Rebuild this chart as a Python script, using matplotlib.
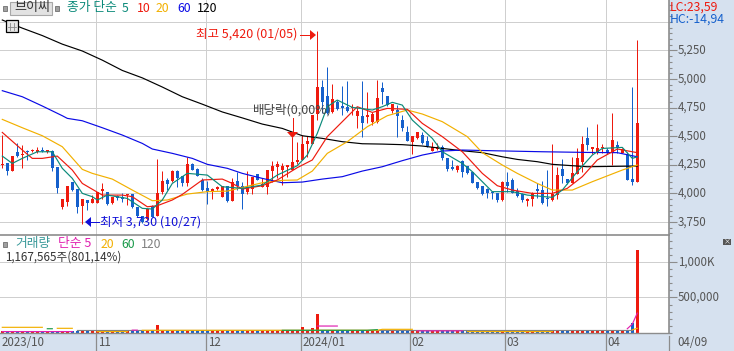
import matplotlib
matplotlib.use('Agg')
import matplotlib.pyplot as plt
from matplotlib.patches import Rectangle, Polygon
from matplotlib.ticker import MultipleLocator
from matplotlib.transforms import ScaledTranslation

plt.rcParams['font.family'] = ['Noto Sans CJK KR', 'DejaVu Sans']

nan = float('nan')

# daily candles, Oct 2023 - Apr 2024
opens = [4248,4262,4195,4365,4335,4373,4370,4358,4375,4365,4373,4230,3878,3925,4100,4038,3888,3942,3918,3920,
         4022,4008,3912,3980,3965,3982,3994,3883,3802,3773,3892,3802,4009,4117,4108,4198,4152,4087,4257,4213,
         4117,4044,4023,4041,3971,4064,3936,4108,4064,4015,4038,4169,4058,4058,4195,4233,4204,4233,4204,4277,
         4292,4428,4431,4694,4927,4851,4708,4799,4755,4752,4743,4676,4679,4670,4624,4624,4921,4851,4720,4729,
         4641,4539,4452,4481,4510,4461,4373,4385,4408,4312,4233,4204,4283,4239,4190,4099,4064,4035,4009,4006,
         3942,4096,4117,4023,3994,3936,3948,4038,4029,3962,3942,3985,4216,4122,4093,4169,4274,4487,4385,4364,
         4393,4379,4356,4423,4350,4344,4122,4102]
highs = [4510,4268,4330,4437,4420,4380,4388,4408,4408,4378,4378,4230,3955,4065,4102,4038,3955,3942,3985,4008,
         4093,4008,3970,3990,4000,3991,3994,3883,3805,3869,3898,4297,4195,4137,4204,4204,4152,4315,4262,4219,
         4131,4108,4044,4061,4064,4064,4137,4189,4102,4198,4146,4169,4137,4204,4283,4283,4262,4248,4496,4446,
         4510,4501,4685,5420,4991,5102,4953,4816,4939,4985,4781,4758,4982,4883,4714,4991,4971,4851,4781,4772,
         4685,4589,4501,4539,4539,4501,4452,4443,4423,4312,4292,4248,4292,4239,4190,4099,4064,4044,4009,4006,
         4105,4189,4137,4044,4000,3956,4015,4093,4105,4204,4431,4233,4300,4122,4321,4399,4501,4583,4408,4606,
         4428,4393,4700,4458,4399,4364,4933,5341]
lows = [4220,4160,4195,4320,4225,4290,4358,4355,4365,4355,4198,4005,3863,3890,4022,3825,3730,3855,3912,3912,
        3955,3898,3907,3942,3927,3898,3869,3796,3745,3767,3790,3802,3994,4029,4102,4058,4067,4064,4204,4155,
        4023,3907,3950,4029,3971,3927,3936,4029,3863,3994,3994,4117,4052,3994,4102,4131,4073,4140,4204,4257,
        4292,4320,4431,4641,4700,4694,4700,4729,4685,4714,4685,4568,4496,4618,4598,4618,4781,4764,4700,4496,
        4548,4458,4344,4472,4431,4408,4370,4379,4292,4198,4204,4190,4146,4169,4087,4035,3985,3962,3950,3927,
        3936,4015,4000,3965,3927,3892,3892,3956,3904,3892,3936,3950,4087,4082,4087,4169,4190,4379,4344,4344,
        4350,4344,4248,4356,4350,4117,4073,4102]
closes = [4255,4198,4330,4326,4345,4362,4378,4378,4370,4373,4225,4045,3955,4065,4030,3883,3948,3918,3950,4008,
          4035,3907,3965,3956,3948,3991,3878,3802,3752,3860,3796,4000,4108,4082,4198,4131,4093,4257,4204,4155,
          4029,4015,4035,4050,4064,3933,4096,4064,3991,4052,4146,4117,4079,4204,4239,4259,4239,4242,4271,4289,
          4431,4458,4685,4927,4796,4700,4822,4738,4749,4720,4752,4720,4612,4688,4694,4834,4886,4770,4781,4676,
          4568,4461,4501,4539,4437,4414,4402,4402,4312,4210,4213,4242,4190,4175,4093,4044,3991,4000,4000,3942,
          4099,4064,4006,3977,3942,3950,4000,4023,3918,3948,3991,4160,4152,4087,4181,4312,4431,4423,4402,4396,
          4408,4364,4466,4399,4388,4117,4099,4612]

# price averages, read at their bends (session index, price)
ma5_x = [0,2,4,7,10,12,14,16,18,19,21,25,28,30,32,34,37,41,44,48,52,55,59,61,63,65,67,70,74,76,78,80,82,86,88,92,94,98,102,105,110,112,115,118,120,124,126,127]
ma5_y = [4326,4262,4306,4364,4364,4219,4131,4000,3971,3942,3985,3956,3869,3863,3942,4087,4175,4160,4058,4044,4073,4160,4242,4335,4525,4758,4816,4752,4729,4758,4796,4772,4641,4481,4364,4262,4190,4015,4015,3985,3965,4029,4190,4335,4393,4402,4306,4320]
ma10_x = [0,4,6,8,11,14,16,20,24,26,29,31,34,36,40,44,46,48,52,55,59,62,65,68,71,74,77,81,84,88,92,96,99,102,106,110,113,116,119,123,127]
ma10_y = [4533,4379,4306,4306,4326,4204,4087,3985,3985,3971,3883,3892,3942,3991,4117,4125,4087,4038,4067,4117,4225,4292,4496,4627,4758,4708,4743,4735,4612,4496,4364,4175,4067,4029,4000,4000,4044,4146,4292,4388,4356]
ma20_x = [0,4,8,12,16,18,22,26,30,33,37,41,45,48,52,56,59,62,65,69,73,77,81,84,88,93,96,100,103,107,110,114,118,124,127]
ma20_y = [4647,4574,4504,4408,4210,4175,4125,4029,3936,3942,3994,4015,4020,4052,4093,4114,4117,4195,4350,4452,4583,4679,4729,4694,4627,4496,4356,4248,4175,4087,4029,4029,4102,4204,4248]
ma60_x = [0,4,8,12,13,16,20,24,28,30,34,38,41,45,48,52,56,60,64,68,72,76,80,84,88,92,98,108,117,123,127]
ma60_y = [4898,4845,4764,4679,4656,4635,4574,4510,4437,4388,4350,4306,4254,4219,4175,4131,4093,4099,4125,4146,4195,4233,4286,4335,4370,4379,4373,4364,4358,4356,4320]
ma120_x = [0,4,8,12,16,20,24,28,32,36,40,44,48,52,56,60,64,68,72,76,80,84,88,92,96,100,103,107,110,117,127]
ma120_y = [5516,5445,5380,5305,5245,5165,5075,5010,4930,4845,4780,4712,4660,4606,4568,4504,4481,4452,4434,4431,4426,4414,4393,4373,4356,4320,4297,4277,4254,4233,4239]

volumes = [26000,24000,25000,23000,24000,23000,24000,25000,23000,24000,25000,24000,25000,24000,23000,25000,24000,23000,24000,23000,
           24000,34000,24000,23000,24000,24000,25000,23000,24000,25000,23000,112000,25000,23000,24000,23000,23000,24000,23000,24000,
           23000,23000,24000,23000,24000,23000,25000,23000,38000,25000,25000,23000,24000,25000,24000,25000,24000,23000,25000,24000,
           80000,25000,74000,268000,34000,27000,30000,24000,23000,24000,25000,24000,23000,24000,24000,23000,23000,24000,23000,24000,
           24000,23000,24000,24000,23000,24000,24000,23000,24000,25000,23000,24000,24000,24000,23000,24000,23000,24000,24000,25000,
           24000,24000,23000,24000,24000,23000,24000,24000,23000,24000,44000,25000,24000,23000,24000,24000,44000,24000,25000,24000,
           24000,24000,25000,26000,25000,36000,146000,1167565]

# volume averages (session index, shares); gaps where a line sits hidden behind another
vma5_x = [0,14,15,25,26,27,28,62,63,67,68,83,92,93,124,125,126,127]
vma5_y = [20000,20000,nan,nan,40000,40000,nan,nan,98000,98000,nan,30000,30000,nan,nan,60000,125000,280000]
vma20_x = [0,8,9,11,14,15,18,19,25,26,28,75,76,82,83,93,110,111,125,126,127]
vma20_y = [80000,80000,nan,66000,66000,nan,nan,20000,20000,nan,38000,38000,52000,52000,nan,20000,20000,nan,nan,45000,66000]
vma60_x = [9,10,11,55,56,73,75,76]
vma60_y = [60000,60000,nan,nan,38000,38000,47000,nan]
vma120_x = [15,126]
vma120_y = [38000,38000]

price_ticks = [3750, 4000, 4250, 4500, 4750, 5000, 5250]
month_pos = [18.7, 40.7, 59.7, 81.5, 100.5, 120.7]
month_labels = ['11', '12', '2024/01', '02', '03', '04']

RED = '#ee1a0e'
BLUE = '#1560cc'
PANEL = '#d6e1ef'
GRID = '#cfcfcf'
AXIS = '#8c8c8c'
TICKTXT = '#555555'
LW = 0.72
MA_LW = 0.85

fig = plt.figure(figsize=(7.34, 3.51), dpi=100, facecolor='white')
W, H = 734, 351


def px_axes(x0, y0, x1, y1):
    return fig.add_axes([x0 / W, 1 - y1 / H, (x1 - x0) / W, (y1 - y0) / H])


# panels behind everything
bg = px_axes(0, 0, W, H)
bg.set_xlim(0, W)
bg.set_ylim(H, 0)
bg.axis('off')
bg.add_patch(Rectangle((669, 0), 65, 351, color=PANEL, lw=0))
bg.add_patch(Rectangle((0, 333), 734, 18, color=PANEL, lw=0))

xl = (-0.46, 133.34)
up_shift = ScaledTranslation(0, 1.2 / 72, fig.dpi_scale_trans)

# main chart
ax = px_axes(0, 0, 669, 235)
ax.patch.set_alpha(0)
ax.set_xlim(*xl)
ax.set_ylim(3636, 5691)
for m in month_pos:
    ax.axvline(m, color=GRID, lw=LW, zorder=1)
for p in price_ticks + [5500]:
    ax.axhline(p, color=GRID, lw=LW, zorder=1)

for i in range(len(opens)):
    up = closes[i] >= opens[i]
    c = RED if up else BLUE
    ax.vlines(i, lows[i], highs[i], color=c, lw=LW, zorder=3)
    ax.bar(i, max(abs(closes[i] - opens[i]), 12), bottom=min(opens[i], closes[i]),
           width=0.62, color=c, lw=0, zorder=3)

ax.plot(ma120_x, ma120_y, color='black', lw=MA_LW, zorder=4)
ax.plot(ma60_x, ma60_y, color='#0a0ae6', lw=MA_LW, zorder=4)
ax.plot(ma20_x, ma20_y, color='#f2b000', lw=MA_LW, zorder=4)
ax.plot(ma10_x, ma10_y, color='#ee1a0e', lw=MA_LW, zorder=4)
ax.plot(ma5_x, ma5_y, color='#0b8a7a', lw=MA_LW, zorder=4)

ax.yaxis.tick_right()
ax.set_yticks(price_ticks)
ax.set_yticklabels([f'{p:,}' for p in price_ticks], fontsize=8.3, color=TICKTXT)
ax.yaxis.set_minor_locator(MultipleLocator(50))
ax.tick_params(axis='y', which='major', length=5.5, width=0.8, color=AXIS, pad=1)
ax.tick_params(axis='y', which='minor', length=2.2, width=0.8, color=AXIS)
ax.set_xticks([])
for t in ax.get_yticklabels():
    t.set_transform(t.get_transform() + up_shift)
for s in ['top', 'left', 'bottom']:
    ax.spines[s].set_visible(False)
ax.spines['right'].set_color(AXIS)
ax.spines['right'].set_linewidth(1.2)

# volume chart
vx = px_axes(0, 235, 669, 333)
vx.patch.set_alpha(0)
vx.set_xlim(*xl)
vx.set_ylim(0, 1380000)
for m in month_pos:
    vx.axvline(m, color=GRID, lw=LW, zorder=1)
vx.axhline(500000, color=GRID, lw=LW, zorder=1)
vx.axhline(1000000, color=GRID, lw=LW, zorder=1)
vol_colors = [RED if closes[i] >= opens[i] else BLUE for i in range(len(volumes))]
vx.bar(range(len(volumes)), volumes, width=0.62, color=vol_colors, lw=0, zorder=3)
vx.plot(vma120_x, vma120_y, color='#808080', lw=MA_LW, zorder=4)
vx.plot(vma20_x, vma20_y, color='#f2b000', lw=MA_LW, zorder=5)
vx.plot(vma60_x, vma60_y, color='#1a9a4a', lw=MA_LW, zorder=5)
vx.plot(vma5_x, vma5_y, color='#e020b0', lw=MA_LW, zorder=5)

vx.yaxis.tick_right()
vx.set_yticks([500000, 1000000])
vx.set_yticklabels(['500,000', '1,000K'], fontsize=8.3, color=TICKTXT)
vx.yaxis.set_minor_locator(MultipleLocator(100000))
vx.tick_params(axis='y', which='major', length=5.5, width=0.8, color=AXIS, pad=1)
vx.tick_params(axis='y', which='minor', length=2.2, width=0.8, color=AXIS)
vx.set_xticks([])
for t in vx.get_yticklabels():
    t.set_transform(t.get_transform() + up_shift)
for s in ['left', 'bottom']:
    vx.spines[s].set_visible(False)
for s in ['top', 'right']:
    vx.spines[s].set_color(AXIS)
    vx.spines[s].set_linewidth(1.2)

# labels and furniture, in pixel coordinates
ov = px_axes(0, 0, W, H)
ov.patch.set_alpha(0)
ov.set_xlim(0, W)
ov.set_ylim(H, 0)
ov.axis('off')


def label(x, y, s, color, size=8.8, ha='left'):
    ov.text(x, y, s, color=color, fontsize=size, ha=ha, va='center')


# top legend
ov.add_patch(Rectangle((10, 2), 42, 13, fc='#e2e2e2', ec='#a8a8a8', lw=0.8))
label(14, 8, '브이씨', '#333333', size=9.4)
for x, y in [(3, 6), (55, 6), (3, 242)]:
    ov.add_patch(Rectangle((x, y), 4, 5, fc='#a0a0a0', ec='#707070', lw=0.6))
label(67, 8, '종가 단순', '#0b8a7a', size=9.2)
label(122, 8, '5', '#0b8a7a')
label(137, 8, '10', RED)
label(156, 8, '20', '#f2b000')
label(177, 8, '60', '#0a0ae6')
label(197, 8, '120', 'black')

# table icon
ov.add_patch(Rectangle((6, 20), 12, 12, fc='#e6e6e6', ec='black', lw=0.9, zorder=6))
for k in (10, 14):
    ov.plot([k, k], [23, 30], color='#888888', lw=0.6, zorder=7)
ov.plot([8, 16], [26.5, 26.5], color='#888888', lw=0.6, zorder=7)

label(670, 7, 'LC:23,59', RED)
label(670, 19, 'HC:-14,94', BLUE)

# volume legend
label(15, 244, '거래량', '#3a9a9a', size=9.2)
label(58, 244, '단순 5', '#e020b0', size=9.2)
label(101, 244, '20', '#f2b000')
label(121, 244, '60', '#1a9a4a')
label(141, 244, '120', '#808080')
label(5, 257, '1,167,565주(801,14%)', '#333333', size=8.4)

# high / low / ex-dividend marks
label(196, 34, '최고 5,420 (01/05)', RED, size=9.0)
ov.plot([300, 311], [35, 35], color=RED, lw=LW)
ov.add_patch(Polygon([(310, 30), (316, 35), (310, 40)], color=RED, lw=0))
label(100, 222, '최저 3,730 (10/27)', '#1010d8', size=9.0)
ov.plot([90, 99], [222, 222], color='#1010d8', lw=LW)
ov.add_patch(Polygon([(91, 217), (85, 222), (91, 227)], color='#1010d8', lw=0))
label(253, 110, '배당락(0,00%)', '#444444', size=9.0)
ov.plot([292.5, 292.5], [118, 132], color=RED, lw=LW)
ov.add_patch(Polygon([(287, 132), (298, 132), (292.5, 138)], color=RED, lw=0))

# date strip
label(2, 342, '2023/10', TICKTXT, size=8.3)
for m, s in zip(month_pos, month_labels):
    px = 2.3 + 5 * m
    ov.plot([px, px], [333, 351], color=AXIS, lw=0.9)
    label(px + 2, 342, s, TICKTXT, size=8.3)
ov.plot([669, 669], [336, 351], color=AXIS, lw=0.9)
label(677, 342, '04/09', TICKTXT, size=8.3)
ov.plot([0, 669], [333, 333], color=AXIS, lw=1)

# close box
ov.add_patch(Rectangle((723, 239), 8, 6, fc='#555555', lw=0))
ov.text(727, 241.7, '×', color='white', fontsize=5, ha='center', va='center')

fig.savefig('out.png', dpi=100)
